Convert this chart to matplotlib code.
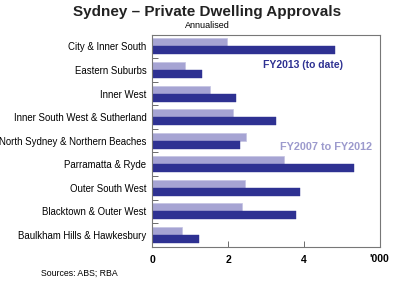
import matplotlib
matplotlib.use("Agg")
import matplotlib.pyplot as plt
import numpy as np

plt.rcParams['font.family'] = ['Liberation Sans', 'DejaVu Sans']

categories = ["City & Inner South", "Eastern Suburbs", "Inner West",
              "Inner South West & Sutherland", "North Sydney & Northern Beaches",
              "Parramatta & Ryde", "Outer South West", "Blacktown & Outer West",
              "Baulkham Hills & Hawkesbury"]
fy2007_2012 = [1.97, 0.86, 1.52, 2.12, 2.48, 3.48, 2.46, 2.36, 0.80]
fy2013 = [4.82, 1.31, 2.21, 3.25, 2.32, 5.31, 3.89, 3.80, 1.23]
xticks = [0, 2, 4]

dark = "#2E3192"
light = "#A6A4D3"

fig = plt.figure(figsize=(4.0, 2.81), dpi=100)
ax = fig.add_axes([152/400, 1-246.7/281, (380-152)/400, (246.7-34.7)/281])

n = len(categories)
y = np.arange(n)
h = 0.34
ax.barh(y - h/2, fy2007_2012, height=h, color=light, edgecolor="#C4C3E3", linewidth=0.5)
ax.barh(y + h/2, fy2013, height=h, color=dark, edgecolor=dark, linewidth=0.3)

ax.set_ylim(n - 0.5, -0.5)
ax.set_xlim(0, 6)
ax.set_yticks(y)
ax.set_yticklabels(categories, fontsize=6.9)
ax.tick_params(axis='y', length=0, pad=4)
ax.set_yticks(np.arange(n - 1) + 0.5, minor=True)
ax.tick_params(axis='y', which='minor', direction='in', length=4, width=0.6, color="#555555")
ax.set_xticks(xticks)
ax.set_xticklabels([str(t) for t in xticks], fontsize=7.5, fontweight='bold')
ax.tick_params(axis='x', direction='in', length=4, width=0.6, color="#555555", pad=6)
for s in ax.spines.values():
    s.set_color("#777777")
    s.set_linewidth(0.8)

ax.text(389/400, 1-259/281, "'000", transform=fig.transFigure, fontsize=7.5, fontweight='bold',
        ha='right', va='center')
ax.text(0.485, 0.855, "FY2013 (to date)", transform=ax.transAxes, fontsize=7.5,
        fontweight='bold', color=dark, ha='left', va='center')
ax.text(0.56, 0.47, "FY2007 to FY2012", transform=ax.transAxes, fontsize=7.8,
        fontweight='bold', color="#9C9ACD", ha='left', va='center')

fig.text(207/400, 1-12/281, "Sydney \u2013 Private Dwelling Approvals", fontsize=11,
         fontweight='bold', ha='center', va='center', color="#222222")
fig.text(207/400, 1-26/281, "Annualised", fontsize=6.5, ha='center', va='center')
fig.text(41/400, 1-273/281, "Sources: ABS; RBA", fontsize=6.3, ha='left', va='center')

fig.savefig("out.png", dpi=100)
